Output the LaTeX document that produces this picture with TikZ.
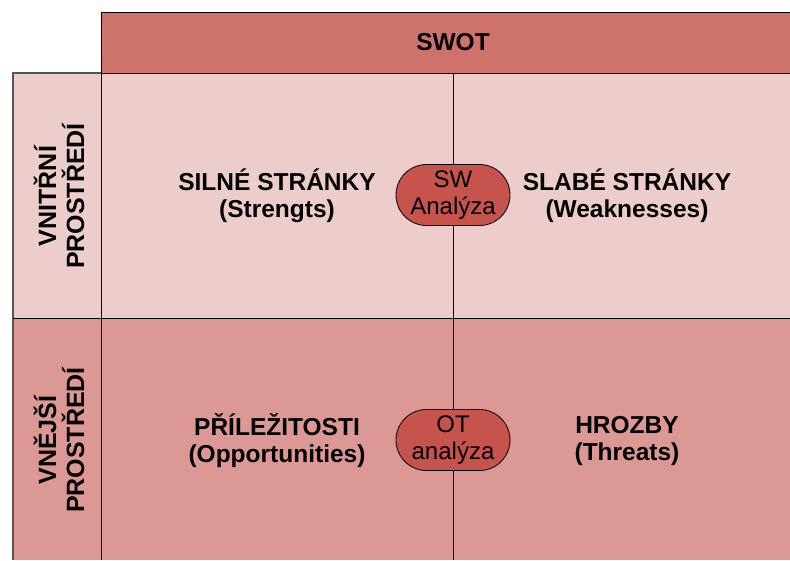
\documentclass[tikz,border=0pt]{standalone}
\usepackage{fontspec}
\setmainfont{Liberation Sans}
\usetikzlibrary{shapes.misc}
\definecolor{hdr}{RGB}{205,115,108}
\definecolor{lite}{RGB}{236,205,204}
\definecolor{mid}{RGB}{219,152,149}
\definecolor{pillc}{RGB}{198,84,76}
\definecolor{edge}{RGB}{85,85,85}
\tikzset{
  big/.style={font=\fontsize{24.5}{27}\selectfont\bfseries, align=center, inner sep=0pt},
  pill/.style={rounded rectangle, draw=black, line width=0.8pt, fill=pillc, minimum width=114pt, minimum height=61pt, inner sep=0pt, font=\fontsize{24}{27.5}\selectfont, align=center},
  side/.style={font=\fontsize{25}{28}\selectfont\bfseries, align=center, rotate=90, inner sep=0pt},
  grid/.style={draw=black, line width=0.9pt}
}
\begin{document}
\begin{tikzpicture}[x=1pt,y=-1pt]
\useasboundingbox (0,0) rectangle (790,560);
% fills
\fill[hdr] (101,12) rectangle (790,73);
\fill[lite] (13,73) rectangle (790,318);
\fill[mid] (13,318) rectangle (790,560);
% lines
\draw[grid] (790,12) -- (101,12) -- (101,560);
\draw[grid] (101,73) -- (790,73);
\draw[draw=edge, line width=1.2pt] (13,560) -- (13,73) -- (101,73);
\draw[grid] (13,318) -- (790,318);
\draw[grid] (453,73) -- (453,560);
% header
\node[big] (swot) at (453,42) {SWOT};
% side labels
\node[side] (vnitrni) at (59,196) {VNITŘNÍ\\PROSTŘEDÍ};
\node[side] (vnejsi) at (59,440) {VNĚJŠÍ\\PROSTŘEDÍ};
% cells
\node[big] (s) at (277,196) {SILNÉ STRÁNKY\\(Strengts)};
\node[big] (w) at (627,196) {SLABÉ STRÁNKY\\(Weaknesses)};
\node[big] (o) at (277,441) {PŘÍLEŽITOSTI\\(Opportunities)};
\node[big] (t) at (627,441) {HROZBY\\(Threats)};
% pills
\node[pill] (sw) at (453,195) {SW\\Analýza};
\node[pill] (ot) at (453,440) {OT\\analýza};
\end{tikzpicture}
\end{document}
